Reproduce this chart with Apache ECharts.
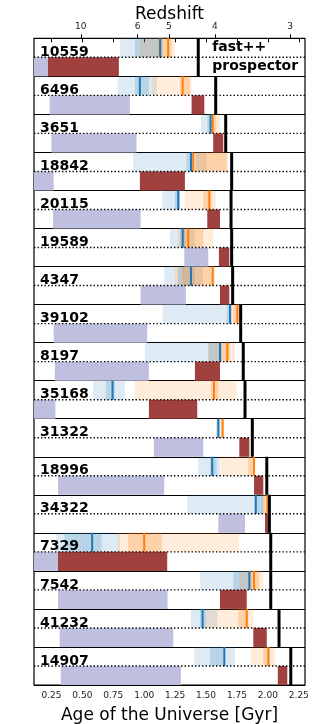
<!DOCTYPE html>
<html>
<head>
<meta charset="utf-8">
<script src="https://cdn.jsdelivr.net/npm/echarts@6/dist/echarts.min.js"></script>
<style>
  html, body { margin: 0; padding: 0; background: #fff; }
  #chart { width: 321px; height: 724px; }
</style>
</head>
<body>
<div id="chart"></div>
<script>
// galaxy ids, one panel each (top to bottom)
const ids = ['10559', '6496', '3651', '18842', '20115', '19589', '4347', '39102', '8197',
  '35168', '31322', '18996', '34322', '7329', '7542', '41232', '14907']

// fast++ (upper half): blue and orange bands [start, end] in Gyr, plus median lines
const blueOuter = [[0.803, 1.151], [0.784, 1.102], [1.459, 1.548], [0.911, 1.505], [1.145, 1.289],
  [1.208, 1.410], [1.162, 1.475], [1.149, 1.707], [1.005, 1.629], [0.587, 0.843], [1.58, 1.62],
  [1.437, 1.613], [1.348, 1.963], [0.290, 0.803], [1.451, 1.87], [1.378, 1.59], [1.405, 1.734]]
const blueInner = [[0.924, 1.143], [0.924, 1.038], [1.510, 1.548], [1.343, 1.39], [1.248, 1.289],
  [1.289, 1.329], [1.273, 1.410], [1.667, 1.707], [1.518, 1.629], [0.690, 0.762], [1.59, 1.61],
  [1.532, 1.586], [1.89, 1.97], [0.357, 0.655], [1.72, 1.86], [1.45, 1.50], [1.532, 1.645]]
const blueLine = [1.129, 0.965, 1.537, 1.378, 1.275, 1.311, 1.378, 1.694, 1.613, 0.744, 1.599,
  1.550, 1.902, 0.579, 1.850, 1.472, 1.648]
const orangeOuter = [[0.965, 1.249], [1.060, 1.383], [1.548, 1.613], [1.396, 1.677], [1.329, 1.580],
  [1.273, 1.558], [1.248, 1.572], [1.707, 1.775], [1.518, 1.734], [0.924, 1.748], [1.62, 1.645],
  [1.618, 1.882], [1.95, 2.01], [0.787, 1.767], [1.77, 1.963], [1.50, 1.882], [1.861, 2.058]]
const orangeInner = [[1.111, 1.222], [1.289, 1.370], [1.548, 1.58], [1.418, 1.667], [1.477, 1.545],
  [1.313, 1.477], [1.305, 1.556], [1.72, 1.765], [1.629, 1.694], [1.54, 1.60], [1.625, 1.64],
  [1.84, 1.885], [1.97, 2.00], [0.870, 1.141], [1.86, 1.93], [1.761, 1.842], [1.963, 2.018]]
const orangeLine = [1.194, 1.311, 1.554, 1.396, 1.526, 1.356, 1.554, 1.753, 1.672, 1.564, 1.634,
  1.888, 1.996, 1.000, 1.888, 1.829, 2.004]

// prospector (lower half): purple and dark red bars
const purpleBar = [[0.05, 0.222], [0.236, 0.884], [0.250, 0.938], [0.05, 0.268], [0.263, 0.971],
  [1.324, 1.518], [0.971, 1.337], [0.268, 1.024], [0.277, 1.038], [0.05, 0.282], [1.078, 1.477],
  [0.303, 1.162], [1.599, 1.815], [0.05, 0.303], [0.303, 1.189], [0.317, 1.235], [0.325, 1.297]]
const redBar = [[0.222, 0.795], [1.383, 1.486], [1.558, 1.639], [0.965, 1.329], [1.510, 1.613],
  [1.604, 1.688], [1.613, 1.688], null, [1.410, 1.613], [1.038, 1.429], [1.769, 1.850],
  [1.888, 1.963], [1.977, 2.004], [0.303, 1.186], [1.613, 1.829], [1.882, 1.991], [2.080, 2.157]]

// age of the universe at the observed redshift
const obsAge = [1.437, 1.578, 1.659, 1.707, 1.702, 1.707, 1.715, 1.780, 1.801, 1.815, 1.874,
  1.991, 2.012, 2.023, 2.023, 2.090, 2.185]

// axes
const ageTicks = [0.25, 0.5, 0.75, 1.0, 1.25, 1.5, 1.75, 2.0, 2.25]
const redshiftTicks = [10, 6, 5, 4, 3]
const redshiftAges = [0.487, 0.946, 1.200, 1.572, 2.179]

const xMin = 0.109
const xMax = 2.30
const font = 'DejaVu Sans'

// kinds: 0 blue outer, 1 blue inner, 2 orange outer, 3 orange inner, 4 purple, 5 red,
// 6 blue line, 7 orange line, 8 black line
const kindStyle = [
  { fill: 'rgba(31,119,180,0.15)' },
  { fill: 'rgba(31,119,180,0.2)' },
  { fill: 'rgba(255,127,14,0.15)' },
  { fill: 'rgba(255,127,14,0.25)' },
  { fill: '#bfbfdf' },
  { fill: '#a0403f' },
  { fill: '#1f77b4', w: 2 },
  { fill: '#ff7f0e', w: 2 },
  { fill: '#000', w: 3 },
]

// [x0, x1, row, half(0 upper, 1 lower, 2 full), kind]
const bandData = []
const addBands = (arr, half, kind) => arr.forEach((r, i) => { if (r) bandData.push([r[0], r[1], i, half, kind]) })
const addLines = (arr, half, kind) => arr.forEach((v, i) => bandData.push([v, v, i, half, kind]))
addBands(blueOuter, 0, 0)
addBands(blueInner, 0, 1)
addBands(orangeOuter, 0, 2)
addBands(orangeInner, 0, 3)
addBands(purpleBar, 1, 4)
addBands(redBar, 1, 5)
addLines(blueLine, 0, 6)
addLines(orangeLine, 0, 7)
addLines(obsAge, 2, 8)

function renderBand(params, api) {
  const half = api.value(3)
  const kind = api.value(4)
  const row = api.value(2)
  const y0 = half === 1 ? row + 0.5 : row
  const y1 = half === 0 ? row + 0.5 : row + 1
  const p0 = api.coord([api.value(0), y0])
  const p1 = api.coord([api.value(1), y1])
  const st = kindStyle[kind]
  let x = p0[0]
  let w = p1[0] - p0[0]
  if (st.w) { x = p0[0] - st.w / 2; w = st.w }
  const cs = params.coordSys
  const shape = echarts.graphic.clipRectByRect(
    { x: x, y: p0[1], width: w, height: p1[1] - p0[1] },
    { x: cs.x, y: cs.y, width: cs.width, height: cs.height })
  return shape && { type: 'rect', shape: shape, style: { fill: st.fill } }
}

function renderMid(params, api) {
  const cs = params.coordSys
  const y = api.coord([xMin, api.value(0) + 0.5])[1]
  return {
    type: 'line',
    shape: { x1: cs.x, y1: y, x2: cs.x + cs.width, y2: y },
    style: { stroke: '#000', lineWidth: 1.4, lineDash: [1.4, 2.1] },
  }
}

function renderLabel(params, api) {
  const row = api.value(0)
  const p = api.coord([xMin, row + 0.5])
  const children = [{
    type: 'text',
    x: p[0] + 6, y: p[1] - 5,
    style: { text: ids[params.dataIndex], fill: '#000', font: 'bold 14px ' + font, verticalAlign: 'middle' },
  }]
  if (row === 0) {
    const q0 = api.coord([1.55, 0.25])
    const q1 = api.coord([1.55, 0.75])
    children.push({ type: 'text', x: q0[0], y: q0[1], style: { text: 'fast++', fill: '#000', font: 'bold 14px ' + font, verticalAlign: 'middle' } })
    children.push({ type: 'text', x: q1[0], y: q1[1], style: { text: 'prospector', fill: '#000', font: 'bold 14px ' + font, verticalAlign: 'middle' } })
  }
  return { type: 'group', children: children }
}

const rows = ids.map((d, i) => [i])

const option = {
  animation: false,
  grid: {
    left: 34, right: 16, top: 38.3, bottom: 39,
    show: true, borderColor: '#000', borderWidth: 1.2,
    containLabel: false, outerBoundsMode: 'none',
  },
  xAxis: [
    {
      type: 'value', min: xMin, max: xMax, position: 'bottom',
      name: 'Age of the Universe [Gyr]', nameLocation: 'middle', nameGap: 22, nameMoveOverlap: false,
      nameTextStyle: { fontFamily: font, fontSize: 17, color: '#000' },
      axisLine: { show: false },
      splitLine: { show: false },
      axisTick: { show: true, length: 4, lineStyle: { color: '#000' }, customValues: ageTicks },
      axisLabel: {
        customValues: ageTicks, margin: 6, fontFamily: font, fontSize: 9, color: '#222',
        formatter: (v) => v.toFixed(2),
      },
    },
    {
      type: 'value', min: xMin, max: xMax, position: 'top',
      name: 'Redshift', nameLocation: 'middle', nameGap: 15.5, nameMoveOverlap: false,
      nameTextStyle: { fontFamily: font, fontSize: 17, color: '#000' },
      axisLine: { show: false },
      splitLine: { show: false },
      axisTick: { show: true, length: 4, lineStyle: { color: '#000' }, customValues: redshiftAges },
      axisLabel: {
        customValues: redshiftAges, margin: 7, fontFamily: font, fontSize: 9, color: '#222',
        formatter: (v) => {
          const k = redshiftAges.findIndex((a) => Math.abs(a - v) < 1e-6)
          return k >= 0 ? String(redshiftTicks[k]) : ''
        },
      },
    },
  ],
  yAxis: {
    type: 'value', min: 0, max: ids.length, interval: 1, inverse: true,
    axisLine: { show: false }, axisTick: { show: false }, axisLabel: { show: false },
    splitLine: { show: true, lineStyle: { color: '#000', width: 1.2 } },
  },
  series: [
    {
      type: 'custom', xAxisIndex: 0, yAxisIndex: 0,
      renderItem: renderBand, data: bandData,
      encode: { x: [0, 1], y: 2 }, z: 2,
    },
    {
      type: 'custom', xAxisIndex: 0, yAxisIndex: 0,
      renderItem: renderMid, data: rows, encode: { y: 0 }, z: 3,
    },
    {
      type: 'custom', xAxisIndex: 0, yAxisIndex: 0,
      renderItem: renderLabel, data: rows, encode: { y: 0 }, z: 4,
    },
  ],
}

const chart = echarts.init(document.getElementById('chart'), null, { renderer: 'canvas' })
chart.setOption(option)
window.onresize = function () {
  chart.resize()
}
</script>
</body>
</html>
